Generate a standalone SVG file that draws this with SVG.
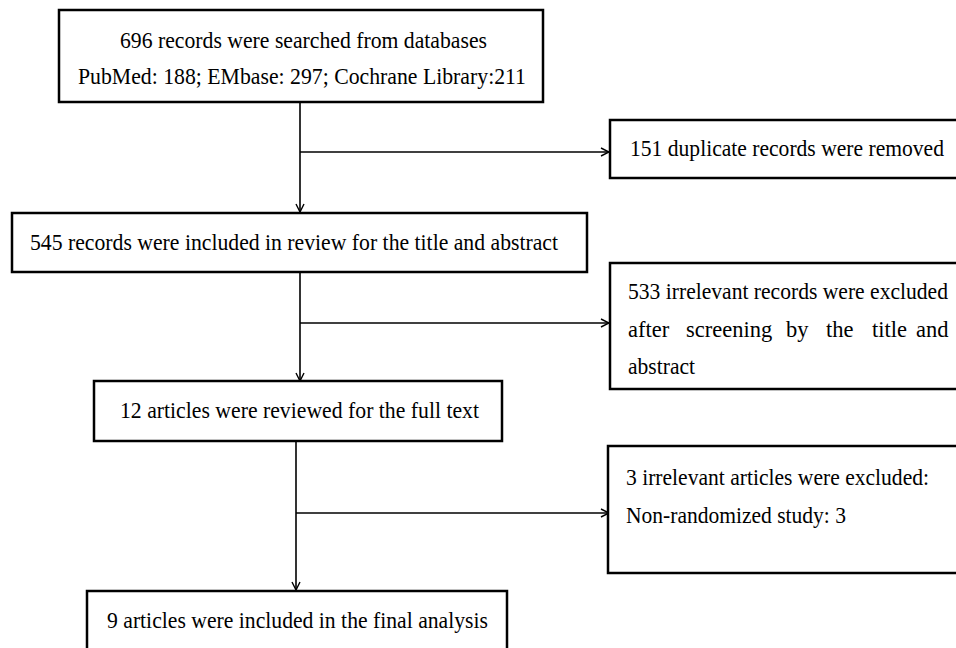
<svg xmlns="http://www.w3.org/2000/svg" width="956" height="648" viewBox="0 0 956 648">
<style>
.box{fill:#fff;stroke:#000;stroke-width:2.5}
.t{font-family:"Liberation Serif","Times New Roman",serif;font-size:22.5px;fill:#000}
.ln{fill:none;stroke:#000;stroke-width:1.6}
</style>
<defs>
<marker id="ah" markerWidth="10" markerHeight="10" refX="9" refY="5" orient="auto" markerUnits="userSpaceOnUse">
<path d="M1,1 L9,5 L1,9" fill="none" stroke="#000" stroke-width="1.4"/>
</marker>
</defs>
<rect width="956" height="648" fill="#fff"/>
<g id="connectors">
<path class="ln" d="M300,102 V212" marker-end="url(#ah)"/>
<path class="ln" d="M300,152 H609" marker-end="url(#ah)"/>
<path class="ln" d="M300,272 V381" marker-end="url(#ah)"/>
<path class="ln" d="M300,323 H609" marker-end="url(#ah)"/>
<path class="ln" d="M296,441 V590" marker-end="url(#ah)"/>
<path class="ln" d="M296,513 H609" marker-end="url(#ah)"/>
</g>
<g id="n1">
<rect class="box" x="59" y="10" width="484" height="92"/>
<text class="t" x="120" y="48" textLength="367" lengthAdjust="spacingAndGlyphs">696 records were searched from databases</text>
<text class="t" x="78" y="84" textLength="448" lengthAdjust="spacingAndGlyphs">PubMed: 188; EMbase: 297; Cochrane Library:211</text>
</g>
<g id="n2">
<rect class="box" x="610" y="120" width="360" height="58"/>
<text class="t" x="630" y="156" textLength="314" lengthAdjust="spacingAndGlyphs">151 duplicate records were removed</text>
</g>
<g id="n3">
<rect class="box" x="12" y="213" width="575" height="59"/>
<text class="t" x="30" y="250" textLength="528" lengthAdjust="spacingAndGlyphs">545 records were included in review for the title and abstract</text>
</g>
<g id="n4">
<rect class="box" x="610" y="263" width="360" height="126"/>
<text class="t" x="628" y="299" textLength="320" lengthAdjust="spacingAndGlyphs">533 irrelevant records were excluded</text>
<text class="t" y="337"><tspan x="628">after</tspan><tspan x="686">screening</tspan><tspan x="786">by</tspan><tspan x="826">the</tspan><tspan x="872">title</tspan><tspan x="916">and</tspan></text>
<text class="t" x="628" y="374" textLength="67" lengthAdjust="spacingAndGlyphs">abstract</text>
</g>
<g id="n5">
<rect class="box" x="94" y="381" width="408" height="60"/>
<text class="t" x="120" y="418" textLength="359" lengthAdjust="spacingAndGlyphs">12 articles were reviewed for the full text</text>
</g>
<g id="n6">
<rect class="box" x="608" y="446" width="362" height="127"/>
<text class="t" x="626" y="485" textLength="303" lengthAdjust="spacingAndGlyphs">3 irrelevant articles were excluded:</text>
<text class="t" x="626" y="523" textLength="220" lengthAdjust="spacingAndGlyphs">Non-randomized study: 3</text>
</g>
<g id="n7">
<rect class="box" x="87" y="591" width="420" height="70"/>
<text class="t" x="107" y="628" textLength="381" lengthAdjust="spacingAndGlyphs">9 articles were included in the final analysis</text>
</g>
</svg>
